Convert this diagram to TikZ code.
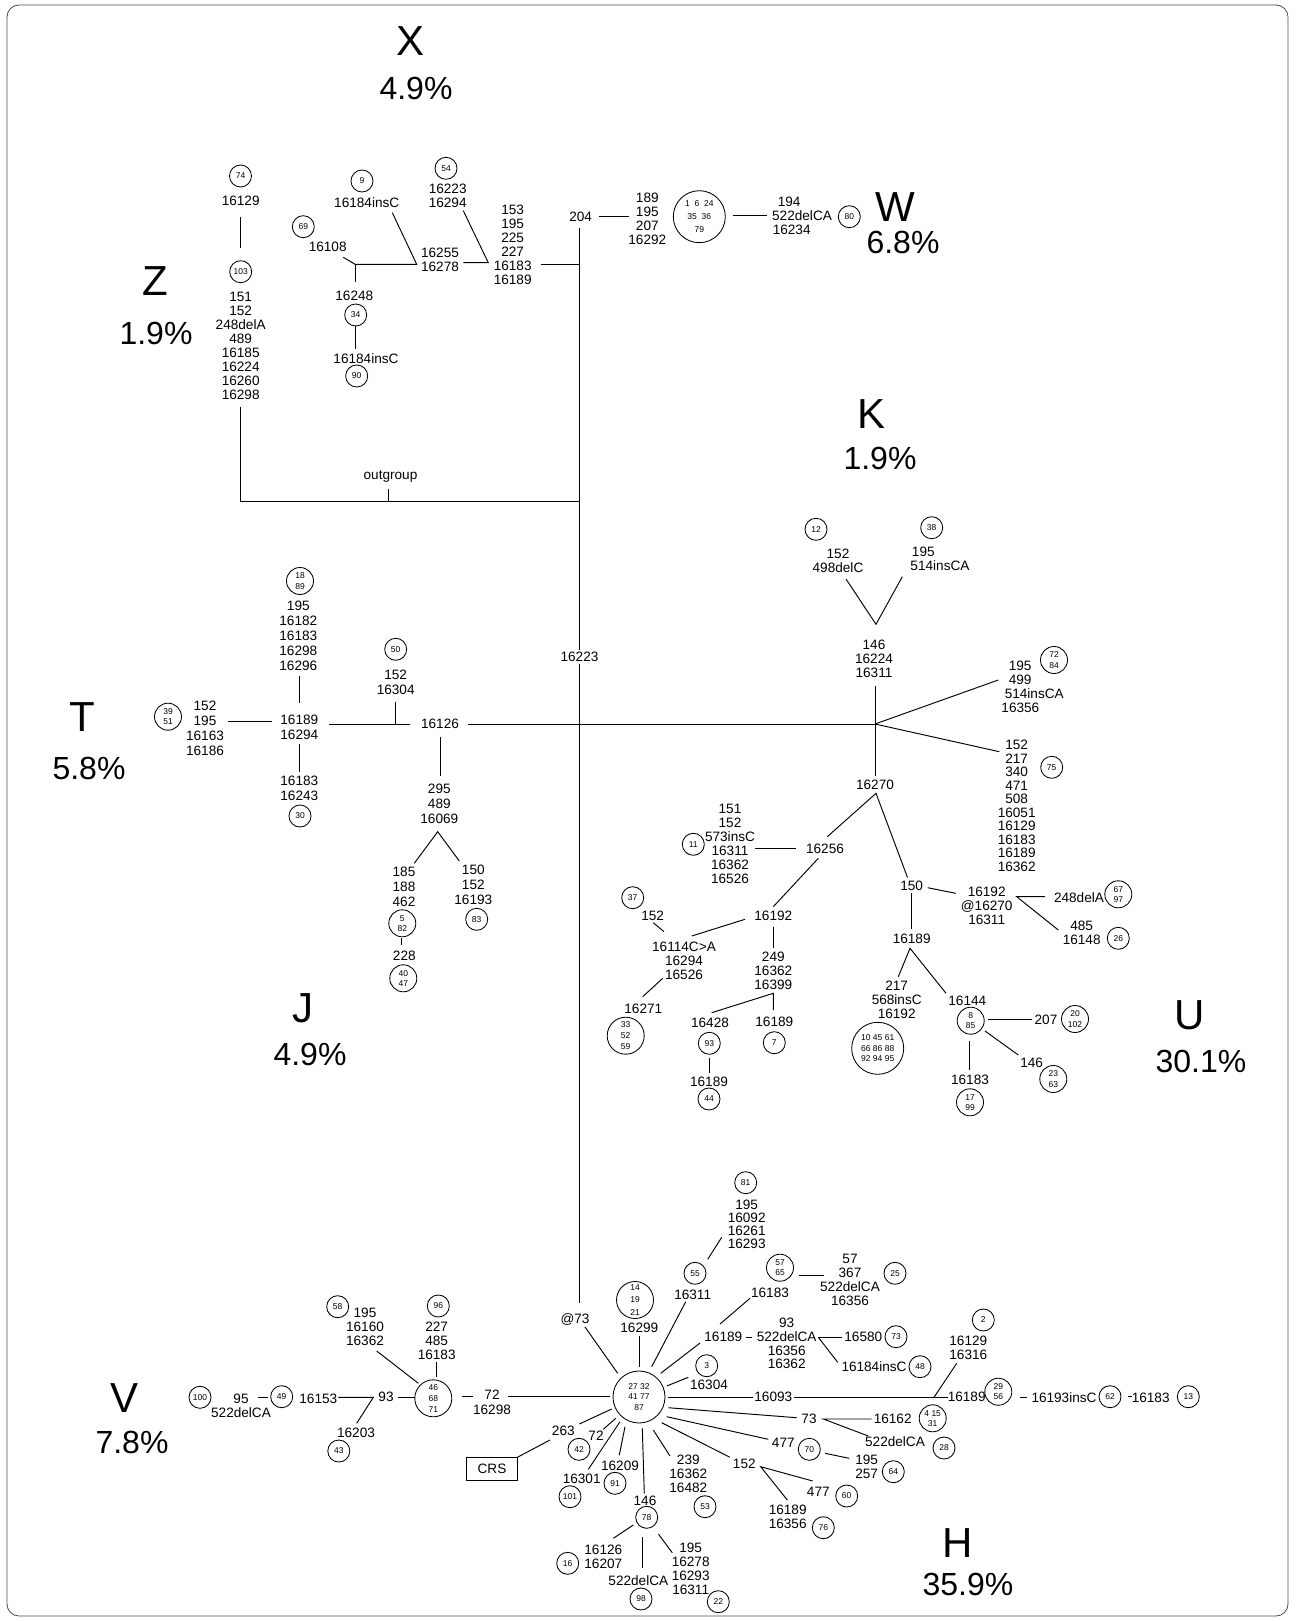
\documentclass[tikz,border=0pt]{standalone}
\usepackage{fontspec}
\setmainfont{Liberation Sans}
\begin{document}
\begin{tikzpicture}[x=1pt,y=-1pt,line width=0.95pt,
  lb/.style={align=center,inner sep=0pt,font=\fontsize{13.6}{14}\selectfont},
  lbw/.style={align=left,inner sep=0pt,anchor=west,font=\fontsize{13.6}{14}\selectfont},
  lbt/.style={align=center,inner sep=0pt,font=\fontsize{13.6}{15}\selectfont},
  ca/.style={circle,draw,line width=0.85pt,inner sep=0pt,minimum size=22pt,align=center,font=\fontsize{8.5}{10}\selectfont},
  cbt/.style={ca,minimum size=27pt,font=\fontsize{8.5}{10.3}\selectfont},
  cbh/.style={ca,minimum size=37pt,font=\fontsize{8.5}{11}\selectfont},
  cbg/.style={ca,minimum size=52pt,font=\fontsize{8.5}{10.5}\selectfont},
  hg/.style={inner sep=0pt,font=\fontsize{42}{42}\selectfont},
  pc/.style={inner sep=0pt,font=\fontsize{32}{32}\selectfont},
]
\useasboundingbox (0,0) rectangle (1295,1621);
\draw[line width=0.8pt,rounded corners=12pt,black!70] (7,5) rectangle (1288,1616);

% ---------- haplogroup titles
\node[hg] (tX) at (411,41) {X};   \node[pc] (pX) at (416,88) {4.9\%};
\node[hg] (tW) at (895,207) {W};  \node[pc] (pW) at (903,242) {6.8\%};
\node[hg] (tZ) at (155,281) {Z};  \node[pc] (pZ) at (156,333) {1.9\%};
\node[hg] (tK) at (871,414) {K};  \node[pc] (pK) at (880,458) {1.9\%};
\node[hg] (tT) at (82,717) {T};   \node[pc] (pT) at (89,768) {5.8\%};
\node[hg] (tJ) at (303,1008) {J}; \node[pc] (pJ) at (310,1054) {4.9\%};
\node[hg] (tU) at (1190,1015) {U};\node[pc] (pU) at (1201,1061) {30.1\%};
\node[hg] (tV) at (125,1398) {V}; \node[pc] (pV) at (132,1442) {7.8\%};
\node[hg] (tH) at (958,1543) {H}; \node[pc] (pH) at (968,1584) {35.9\%};

% ---------- Z
\node[ca] (c74) at (240.5,176) {74};
\node[lb] (z16129) at (240.7,201) {16129};
\draw (240.7,216.7) -- (240.7,248.3);
\node[ca] (c103) at (240.7,271.7) {103};
\node[lb] (zst) at (240.7,345.9) {151\\152\\248delA\\489\\16185\\16224\\16260\\16298};
\draw (240.7,406.7) -- (240.7,501) -- (579.3,501);
\node[lb] (og) at (390.5,477) {outgroup};
\draw (388.4,488.6) -- (388.4,501);

% ---------- X
\node[ca] (c9) at (362,181) {9};
\node[lb] (x1) at (366.7,202.3) {16184insC};
\node[ca] (c69) at (303.3,226.7) {69};
\node[lb] (x16108) at (327.7,247.3) {16108};
\draw (343.3,257.3) -- (355,264.3) -- (416.7,264.3) -- (392.3,212.7);
\draw (355,264.3) -- (355,281.7);
\node[lb] (x16248) at (354.3,295.7) {16248};
\node[ca] (c34) at (355.7,315) {34};
\draw (355.7,326) -- (355.7,349.3);
\node[lb] (x2) at (366,358.3) {16184insC};
\node[ca] (c90) at (356.7,376) {90};
\node[lb] (x16255) at (440,260) {16255\\16278};
\node[ca] (c54) at (446,168.3) {54};
\node[lb] (x16223) at (447.7,195.7) {16223\\16294};
\draw (463.3,210.7) -- (488.3,262.7) -- (463.3,262.7);
\node[lb] (x153) at (512.7,244.9) {153\\195\\225\\227\\16183\\16189};
\draw (540.7,264.3) -- (579.3,264.3);
\node[lb] (n204) at (580.7,216.7) {204};

% ---------- trunk
\draw (579.3,228.3) -- (579.3,1303.3);
\node[lb,fill=white,inner sep=2pt] (tr16223) at (579.5,657) {16223};

% ---------- W
\draw (599.3,216.7) -- (629.3,216.7);
\node[lb] (w189) at (647.3,219.2) {189\\195\\207\\16292};
\node[cbg,font=\fontsize{8.5}{13}\selectfont] (cW) at (699.3,216.7) {1\ \ 6\ \ 24\\35\ \ 36\\79};
\draw (732.7,215.5) -- (766.7,215.5);
\node[lbw] (w194) at (771.7,215.6) {\hspace{5.6pt}194\\522delCA\\\hspace{0.6pt}16234};
\node[ca] (c80) at (849.3,216.7) {80};

% ---------- T
\node[cbt] (c1889) at (300,581) {18\\89};
\node[lbt] (t195) at (298.3,635.9) {195\\16182\\16183\\16298\\16296};
\draw (299.3,676) -- (299.3,702.7);
\node[lbt] (t16189) at (299.3,727.5) {16189\\16294};
\draw (228.3,721.7) -- (271.7,721.7);
\node[lbt] (t152) at (205,728.2) {152\\195\\16163\\16186};
\node[cbt] (c3951) at (168,716.7) {39\\51};
\draw (299.3,744.3) -- (299.3,772.3);
\node[lbt] (t16183) at (299.3,788.3) {16183\\16243};
\node[ca] (c30) at (300,816) {30};
\draw (329.3,724) -- (410,724);
\draw (395.7,701.7) -- (395.7,724);
\node[lbt] (t16304) at (395.7,682.5) {152\\16304};
\node[ca] (c50) at (395.7,649.3) {50};
\node[lb] (n16126) at (440,724.3) {16126};
\draw (468.3,724) -- (875,724);

% ---------- J
\draw (440,736.7) -- (440,776);
\node[lbt] (j295) at (439.3,804.2) {295\\489\\16069};
\draw (414.3,863.3) -- (437.7,831.7) -- (459.3,861);
\node[lbt] (j185) at (404,887.2) {185\\188\\462};
\node[lbt] (j150) at (473.3,884.5) {150\\152\\16193};
\node[ca] (c83) at (476.7,919.3) {83};
\node[cbt] (c582) at (402.3,923.3) {5\\82};
\draw (401.7,938.3) -- (401.7,945);
\node[lbt] (j228) at (404.3,956) {228};
\node[cbt] (c4047) at (403.3,978.3) {40\\47};

% ---------- K
\node[ca] (c12) at (816,529.3) {12};
\node[lb] (k152) at (838,561.2) {152\\498delC};
\node[ca] (c38) at (931.7,527.7) {38};
\node[lbw] (k195) at (910,559.2) {\hspace{1.5pt}195\\514insCA};
\draw (846,579) -- (876,624.3) -- (902.3,576.7);
\node[lb] (k146) at (874,658.8) {146\\16224\\16311};
\draw (875,686) -- (875,775.7);
\draw (875,724) -- (998.3,680);
\node[lbw] (k499) at (1001,686.7) {\hspace{7.3pt}195\\\hspace{7.3pt}499\\\hspace{3.3pt}514insCA\\16356};
\node[cbt] (c7284) at (1054,660) {72\\84};
\draw (875,724) -- (999.3,751.7);
\node[lb,font=\fontsize{13.6}{13.5}\selectfont] (k217) at (1016.7,805.8) {152\\217\\340\\471\\508\\16051\\16129\\16183\\16189\\16362};
\node[ca] (c75) at (1051.7,767.3) {75};

% ---------- U
\node[lb] (u16270) at (875,785) {16270};
\draw (827.3,836.7) -- (876,793.3) -- (907.5,877.5);
\node[lb] (u16256) at (825,849.3) {16256};
\draw (755,848.3) -- (796,848.3);
\node[lb] (u151) at (730,844.2) {151\\152\\573insC\\16311\\16362\\16526};
\node[ca] (c11) at (693.3,844.3) {11};
\draw (818.3,858.3) -- (773.3,906.7);
\node[lb] (u16192a) at (773.3,916) {16192};
\draw (745,919.3) -- (691.7,936);
\node[ca] (c37) at (632.7,897.7) {37};
\node[lb] (u152) at (652.7,915.7) {152};
\draw (653.3,922.7) -- (664,931.7);
\node[lb] (u16114) at (684,961.3) {16114C>A\\16294\\16526};
\draw (662.7,978.3) -- (642.7,996.7);
\node[lb] (u16271) at (643.3,1009) {16271};
\node[cbh] (c335259) at (625.7,1035.7) {33\\52\\59};
\draw (773.3,926.7) -- (773.3,948.3);
\node[lb] (u249) at (773.3,970.5) {249\\16362\\16399};
\draw (711.7,1012.7) -- (773.3,993.3) -- (773.3,1010);
\node[lb] (u16428) at (710,1023.3) {16428};
\node[ca] (c93) at (709.3,1043.3) {93};
\draw (709.3,1058.3) -- (709.3,1072.7);
\node[lb] (u16189a) at (709,1081.7) {16189};
\node[ca] (c44) at (709,1099) {44};
\node[lb] (u16189b) at (774.3,1022.3) {16189};
\node[ca] (c7) at (774.3,1042.7) {7};

\node[lb] (u150) at (911.7,885.7) {150};
\draw (927.7,887.7) -- (955.7,893.3);
\node[lb] (u16192b) at (986.7,905.8) {16192\\@16270\\16311};
\draw (1045,896.7) -- (1016.7,896.7) -- (1058.3,930);
\node[lb] (u248) at (1079,897.7) {248delA};
\node[cbt] (c6797) at (1118.3,894.3) {67\\97};
\node[lb] (u485) at (1081.7,933.3) {485\\16148};
\node[ca] (c26) at (1118.3,938.3) {26};
\draw (911,893.3) -- (911,929.3);
\node[lb] (u16189c) at (911.7,939) {16189};
\draw (898.3,976.7) -- (910,948.3) -- (946,993.3);
\node[lb] (u217) at (896.7,1000) {217\\568insC\\16192};
\node[cbg] (cU) at (877.7,1048.3) {10 45 61\\66 86 88\\92 94 95};
\node[lb] (u16144) at (967.3,1001) {16144};
\node[cbt] (c885) at (970.7,1020.7) {8\\85};
\draw (988.3,1019.3) -- (1031.7,1019.3);
\node[lb] (u207) at (1046,1020) {207};
\node[cbt] (c20102) at (1075,1019) {20\\102};
\draw (985,1031) -- (1018.3,1055);
\node[lb] (u146) at (1031.7,1062.7) {146};
\node[cbt] (c2363) at (1053.3,1079) {23\\63};
\draw (969.3,1041) -- (969.3,1070);
\node[lb] (u16183) at (970,1080) {16183};
\node[cbt] (c1799) at (970,1102.3) {17\\99};

% ---------- H
\node[cbg] (hc) at (639,1397) {27 32\\41 77\\87};
\node[lb] (h73a) at (575,1319.3) {@73};
\draw (585,1327) -- (617.7,1373.3);
\node[ca] (c81) at (745.7,1182.7) {81};
\node[lb,font=\fontsize{13.6}{12.8}\selectfont] (h195a) at (746.7,1224.5) {195\\16092\\16261\\16293};
\draw (721.7,1237.3) -- (707.7,1259.3);
\node[ca] (c55) at (695,1273.3) {55};
\node[lb] (h16311) at (692.7,1295) {16311};
\draw (685.7,1301.7) -- (651.7,1366.7);
\node[cbh,font=\fontsize{8.5}{12.3}\selectfont] (c141921) at (635,1300) {14\\19\\21};
\node[lb] (h16299) at (639.3,1327.7) {16299};
\draw (639.3,1335.7) -- (639.3,1366.7);
\node[cbt] (c5765) at (780,1267.7) {57\\65};
\draw (799.3,1275) -- (824.3,1275);
\node[lb] (h57) at (850,1280) {57\\367\\522delCA\\16356};
\node[ca] (c25) at (895,1273.3) {25};
\node[lb] (h16183) at (770,1292.7) {16183};
\draw (750,1298.3) -- (720,1324);
\node[lb] (h16189a) at (723.3,1336.7) {16189};
\draw (660.7,1373.3) -- (700,1343);
\draw (745.7,1337.3) -- (752.3,1337.3);
\node[lb,font=\fontsize{13.6}{13.6}\selectfont] (h93) at (786.7,1343.7) {93\\522delCA\\16356\\16362};
\draw (818.3,1337.3) -- (841.7,1337.3);
\node[lb] (h16580) at (863.3,1337.3) {16580};
\node[ca] (c73) at (896,1336.7) {73};
\draw (818.3,1337.3) -- (837.7,1362.3);
\node[lb] (h16184) at (874,1366.7) {16184insC};
\node[ca] (c48) at (920,1366.7) {48};
\node[ca] (c3) at (706.7,1365.7) {3};
\node[lb] (h16304) at (709,1385) {16304};
\draw (666.7,1386) -- (688.3,1377.3);
\draw (668.3,1397.3) -- (948.3,1397.3);
\node[lb,fill=white,inner sep=1.5pt] (h16093) at (773.3,1397.3) {16093};
\draw (934,1397.3) -- (956.7,1363.3);
\node[lb] (h16129) at (968.3,1347.5) {16129\\16316};
\node[ca] (c2) at (983.3,1320) {2};
\node[lb] (h16189b) at (966.7,1396.7) {16189};
\node[cbt] (c2956) at (998.3,1391.7) {29\\56};
\draw (1020,1397.7) -- (1026.7,1397.7);
\node[lb] (h16193) at (1064,1397.7) {16193insC};
\node[ca] (c62) at (1110,1396.7) {62};
\draw (1128.3,1396) -- (1131.7,1396);
\node[lb] (h16183b) at (1150.7,1397.7) {16183};
\node[ca] (c13) at (1188.3,1396.7) {13};

\draw (668.3,1407.7) -- (796.7,1417.7);
\node[lb] (h73b) at (809,1419) {73};
\draw (871.7,1419) -- (823.3,1419) -- (868.3,1436);
\node[lb] (h16162) at (892.7,1419) {16162};
\node[cbt] (c41531) at (932.7,1418.3) {4\ 15\\31};
\node[lb] (h522a) at (895,1442) {522delCA};
\node[ca] (c28) at (944,1448) {28};
\draw (666.7,1416.7) -- (768.3,1439.3);
\node[lb] (h477a) at (783.3,1443.3) {477};
\node[ca] (c70) at (809.3,1449.3) {70};
\draw (825,1453.3) -- (849.3,1458.3);
\node[lb] (h195b) at (866.7,1467) {195\\257};
\node[ca] (c64) at (893.3,1471.7) {64};
\draw (661.7,1422.7) -- (730,1457.3);
\node[lb] (h152) at (744.3,1464.3) {152};
\draw (812.7,1481) -- (760.7,1466.7) -- (787.3,1500);
\node[lb] (h477b) at (818.3,1491.7) {477};
\node[ca] (c60) at (846.7,1496) {60};
\node[lb] (h16189c) at (787.7,1517) {16189\\16356};
\node[ca] (c76) at (823.3,1527.7) {76};
\draw (653.3,1430) -- (670,1456);
\node[lb] (h239) at (688.3,1474.2) {239\\16362\\16482};
\node[ca] (c53) at (705,1506.7) {53};
\draw (642.3,1428.3) -- (644.3,1493.3);
\node[lb] (h146) at (645,1501) {146};
\node[ca] (c78) at (646.7,1517.3) {78};
\draw (633.3,1525) -- (613.3,1538.3);
\draw (642.7,1536.7) -- (642.7,1568.3);
\draw (658.3,1534) -- (672.3,1552.7);
\node[lb] (h16126) at (603.3,1556.3) {16126\\16207};
\node[ca] (c16) at (567.7,1563.3) {16};
\node[lb] (h522b) at (638.3,1581) {522delCA};
\node[ca] (c98) at (641,1599) {98};
\node[lb] (h195c) at (690.7,1569.2) {195\\16278\\16293\\16311};
\node[ca] (c22) at (718.3,1601.7) {22};
\draw (625,1426.7) -- (619.3,1455);
\node[lb] (h16209) at (620,1465.7) {16209};
\node[ca] (c91) at (615,1483.3) {91};
\draw (620,1421.7) -- (588.3,1469.3);
\node[lb] (h16301) at (581.7,1478.3) {16301};
\node[ca] (c101) at (570,1496.7) {101};
\draw (615.7,1418.3) -- (603.3,1429.3);
\node[lb] (h72) at (596,1436) {72};
\node[ca] (c42) at (579,1449.3) {42};
\draw (611.7,1409) -- (579.3,1424);
\node[lb] (h263) at (563.3,1431) {263};
\draw (550,1440) -- (517.3,1457.3);
\node[draw,line width=0.85pt,minimum width=50.6pt,minimum height=22.7pt,inner sep=0pt,font=\fontsize{13.6}{14}\selectfont] (crs) at (492,1468.7) {CRS};

% ---------- V
\draw (610,1396.7) -- (508.3,1396.7);
\node[lbt] (v72) at (492,1402.5) {72\\16298};
\draw (461.7,1396.7) -- (473.3,1396.7);
\node[cbh] (c466871) at (433.3,1398.3) {46\\68\\71};
\draw (436.7,1361.7) -- (436.7,1376.7);
\node[lb] (v227) at (436.7,1341) {227\\485\\16183};
\node[ca] (c96) at (438.3,1306) {96};
\draw (376.7,1351) -- (418.3,1383.3);
\node[lb] (v195) at (365,1327) {195\\16160\\16362};
\node[ca] (c58) at (337.7,1306.7) {58};
\draw (397.7,1397.3) -- (415,1397.3);
\node[lb] (v93) at (386,1397.3) {93};
\draw (338.3,1397.3) -- (373.3,1397.3) -- (356.7,1423.3);
\node[lb] (v16153) at (318.3,1399) {16153};
\node[lb] (v16203) at (356,1433.3) {16203};
\node[ca] (c43) at (338.8,1451) {43};
\node[ca] (c49) at (281.7,1396.7) {49};
\draw (258.3,1397.3) -- (268.3,1397.3);
\node[lb] (v95) at (241,1405.5) {95\\522delCA};
\node[ca] (c100) at (200,1397.3) {100};
\end{tikzpicture}
\end{document}
